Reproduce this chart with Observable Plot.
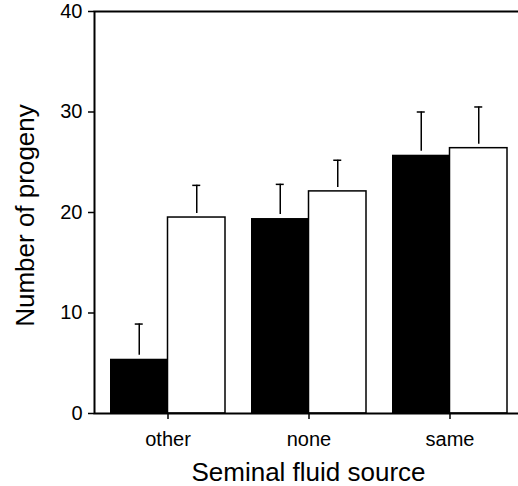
<!DOCTYPE html>
<html>
<head>
<meta charset="utf-8">
<script src="https://cdn.jsdelivr.net/npm/d3@7"></script>
<script src="https://cdn.jsdelivr.net/npm/@observablehq/plot@0.6"></script>
<style>
html, body { margin: 0; padding: 0; background: white; overflow: hidden; }
</style>
</head>
<body>
<div id="chart"></div>
<script>
const categories = ["other", "none", "same"];
const blackValues = [5.4, 19.4, 25.7];
const blackErrors = [3.5, 3.4, 4.3];
const whiteValues = [19.5, 22.1, 26.4];
const whiteErrors = [3.2, 3.1, 4.1];
const yTicks = [0, 10, 20, 30, 40];
const xTitle = "Seminal fluid source";
const yTitle = "Number of progeny";

const blackData = categories.map((c, i) => ({cat: c, value: blackValues[i], top: blackValues[i] + blackErrors[i]}));
const whiteData = categories.map((c, i) => ({cat: c, value: whiteValues[i], top: whiteValues[i] + whiteErrors[i]}));

function makePlot(bw) {
  const capHalf = 4;
  return Plot.plot({
    width: 518,
    height: 486,
    marginLeft: 94,
    marginRight: -4,
    marginTop: 11,
    marginBottom: 73,
    style: {fontFamily: "'Liberation Sans', Arial, sans-serif", fontSize: "20px", background: "white", color: "black"},
    x: {domain: categories, paddingInner: 0.187, paddingOuter: 0.106, label: null},
    y: {domain: [0, 40], label: null},
    marks: [
      Plot.barY(blackData, {x: "cat", y: "value", fill: "black", insetRight: bw / 2}),
      Plot.barY(whiteData, {x: "cat", y: "value", fill: "white", stroke: "black", strokeWidth: 1.5, insetLeft: bw / 2}),
      Plot.ruleX(blackData, {x: "cat", y1: "top", y2: "value", dx: -bw / 4, stroke: "black", strokeWidth: 1.5, insetBottom: 4}),
      Plot.ruleX(whiteData, {x: "cat", y1: "top", y2: "value", dx: bw / 4, stroke: "black", strokeWidth: 1.5, insetBottom: 4}),
      Plot.tickY(blackData, {x: "cat", y: "top", stroke: "black", strokeWidth: 1.5, insetLeft: bw / 4 - capHalf, insetRight: 3 * bw / 4 - capHalf}),
      Plot.tickY(whiteData, {x: "cat", y: "top", stroke: "black", strokeWidth: 1.5, insetLeft: 3 * bw / 4 - capHalf, insetRight: bw / 4 - capHalf}),
      Plot.frame({stroke: "black", strokeWidth: 2}),
      Plot.axisY({ticks: yTicks, tickSize: 6, tickPadding: 6, fontSize: 20, label: null, strokeWidth: 1.5}),
      Plot.axisX({tickSize: 6, tickPadding: 12, fontSize: 20, label: null, strokeWidth: 1.5}),
      Plot.text([yTitle], {frameAnchor: "left", textAnchor: "middle", lineAnchor: "middle", rotate: -90, dx: -69, dy: 3, fontSize: 26, fill: "black"}),
      Plot.text([xTitle], {frameAnchor: "bottom", textAnchor: "middle", lineAnchor: "middle", dy: 59, fontSize: 26, fill: "black"})
    ]
  });
}

const probe = makePlot(0);
const bw = probe.scale("x").bandwidth;
const chart = makePlot(bw);
document.getElementById("chart").appendChild(chart);
</script>
</body>
</html>
